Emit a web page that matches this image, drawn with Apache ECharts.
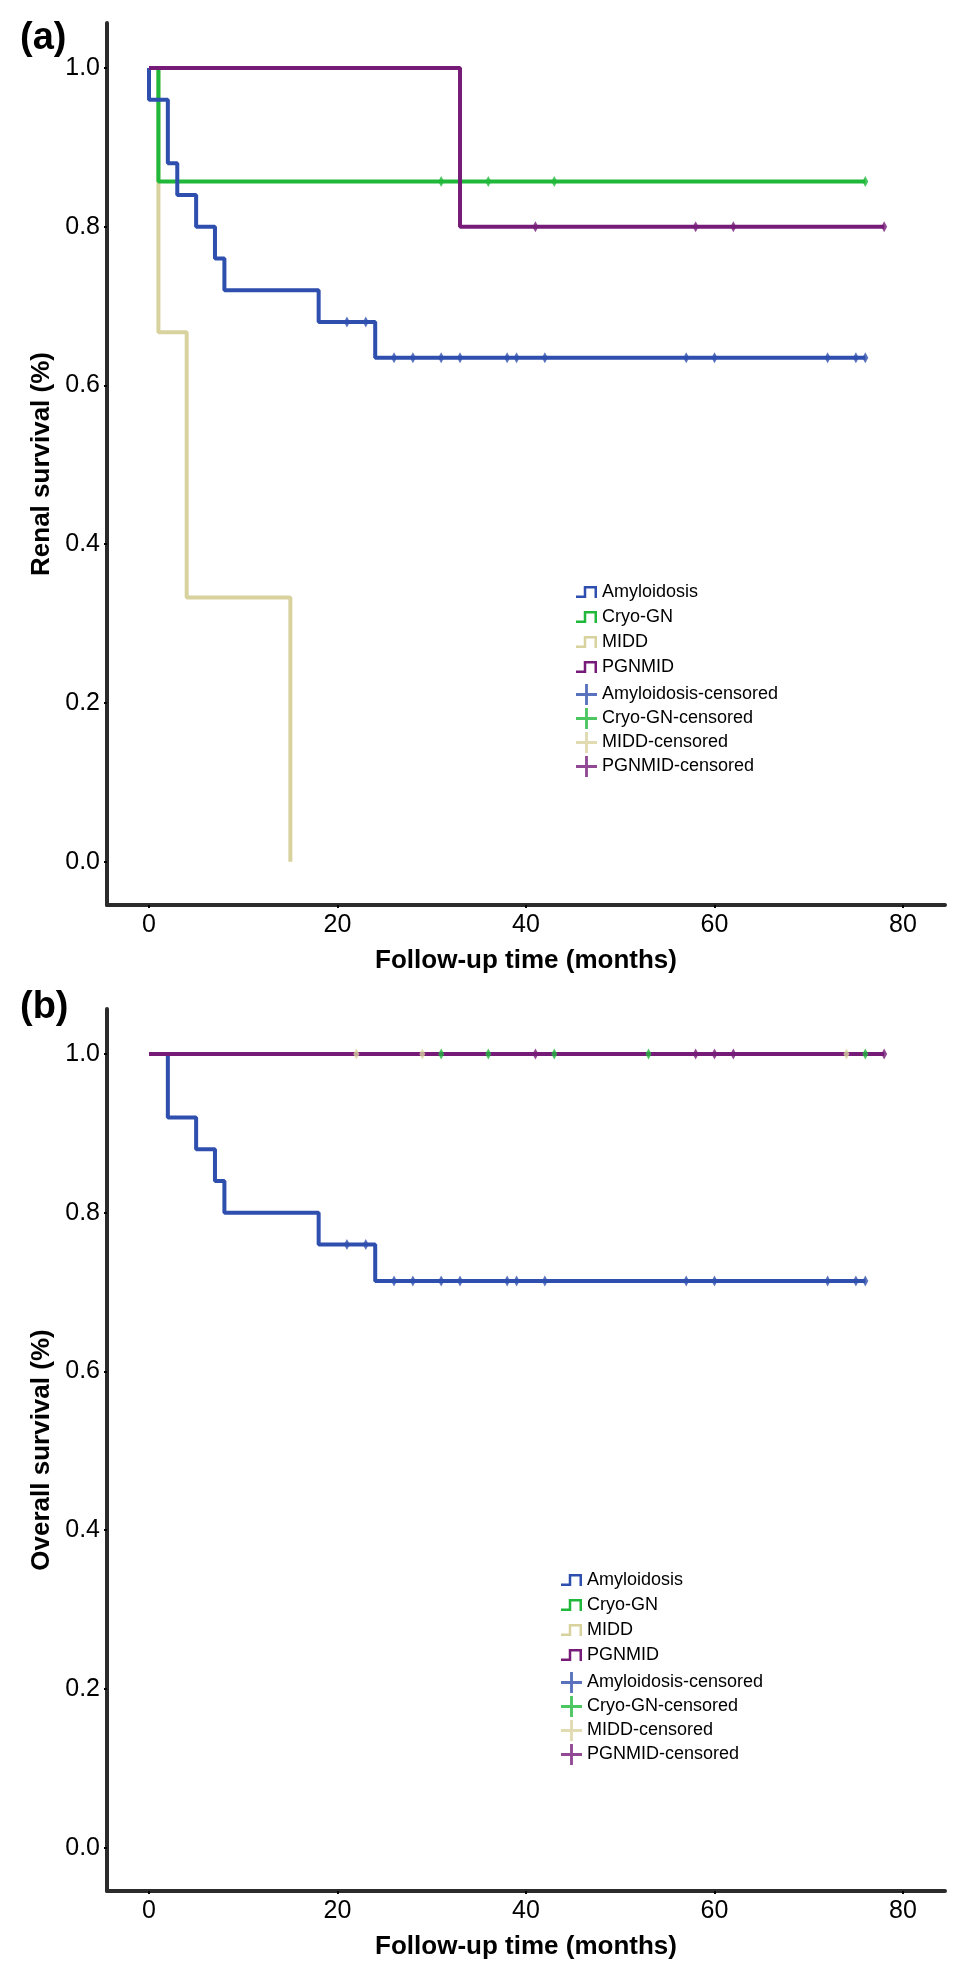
<!DOCTYPE html>
<html>
<head>
<meta charset="utf-8">
<script src="https://cdn.jsdelivr.net/npm/echarts@6/dist/echarts.min.js"></script>
<style>
  html, body { margin: 0; padding: 0; background: #fff; }
  #chart { width: 968px; height: 1983px; }
</style>
</head>
<body>
<div id="chart"></div>
<script>
// ---------- data ----------
const groups = ['Amyloidosis', 'Cryo-GN', 'MIDD', 'PGNMID'];
const xTicks = [0, 20, 40, 60, 80];
const yTicks = [0, 0.2, 0.4, 0.6, 0.8, 1.0];

// Panel (a): renal survival — step curves (time, survival)
const amyRenalT = [0, 0, 2, 3, 5, 7, 8, 18, 24, 76];
const amyRenalS = [1, 0.96, 0.88, 0.84, 0.80, 0.76, 0.72, 0.68, 0.635, 0.635];
const cryoRenalT = [0, 1, 76];
const cryoRenalS = [1, 0.857, 0.857];
const middRenalT = [0, 1, 4, 15];
const middRenalS = [1, 0.667, 0.333, 0];
const pgnRenalT = [0, 33, 78];
const pgnRenalS = [1, 0.8, 0.8];
// censored marks (a)
const amyRenalCensT = [21, 23, 26, 28, 31, 33, 38, 39, 42, 57, 60, 72, 75, 76];
const amyRenalCensS = [0.68, 0.68, 0.635, 0.635, 0.635, 0.635, 0.635, 0.635, 0.635, 0.635, 0.635, 0.635, 0.635, 0.635];
const cryoRenalCensT = [31, 36, 43, 76];
const cryoRenalCensS = [0.857, 0.857, 0.857, 0.857];
const middRenalCensT = [];
const middRenalCensS = [];
const pgnRenalCensT = [41, 58, 62, 78];
const pgnRenalCensS = [0.8, 0.8, 0.8, 0.8];

// Panel (b): overall survival
const amyOsT = [0, 2, 5, 7, 8, 18, 24, 76];
const amyOsS = [1, 0.92, 0.88, 0.84, 0.80, 0.76, 0.714, 0.714];
const cryoOsT = [0, 76];
const cryoOsS = [1, 1];
const middOsT = [0, 74];
const middOsS = [1, 1];
const pgnOsT = [0, 78];
const pgnOsS = [1, 1];
// censored marks (b)
const amyOsCensT = [21, 23, 26, 28, 31, 33, 38, 39, 42, 57, 60, 72, 75, 76];
const amyOsCensS = [0.76, 0.76, 0.714, 0.714, 0.714, 0.714, 0.714, 0.714, 0.714, 0.714, 0.714, 0.714, 0.714, 0.714];
const cryoOsCensT = [31, 36, 43, 53, 76];
const cryoOsCensS = [1, 1, 1, 1, 1];
const middOsCensT = [22, 29, 74];
const middOsCensS = [1, 1, 1];
const pgnOsCensT = [41, 58, 60, 62, 78];
const pgnOsCensS = [1, 1, 1, 1, 1];

// ---------- styling ----------
const colors = { 'Amyloidosis': '#2f4fae', 'Cryo-GN': '#1fb83a', 'MIDD': '#d8d29e', 'PGNMID': '#761c78' };
const zOrder = { 'MIDD': 2, 'Cryo-GN': 3, 'Amyloidosis': 4, 'PGNMID': 5 };
const FONT = '"Liberation Sans", Arial, sans-serif';
const stepIcon = 'path://M0,9.5 L7.75,9.5 L7.75,0 L21,0 L21,12 L18.5,12 L18.5,2.5 L10.25,2.5 L10.25,12 L0,12 Z';
const crossIcon = 'path://M9.5,0 L12.5,0 L12.5,9.5 L22,9.5 L22,12.5 L12.5,12.5 L12.5,22 L9.5,22 L9.5,12.5 L0,12.5 L0,9.5 L9.5,9.5 Z';

function zip(t, s) { return t.map((v, i) => [v, s[i]]); }

const panels = [
  { title: 'Renal survival (%)', curves: [[amyRenalT, amyRenalS], [cryoRenalT, cryoRenalS], [middRenalT, middRenalS], [pgnRenalT, pgnRenalS]],
    cens: [[amyRenalCensT, amyRenalCensS], [cryoRenalCensT, cryoRenalCensS], [middRenalCensT, middRenalCensS], [pgnRenalCensT, pgnRenalCensS]] },
  { title: 'Overall survival (%)', curves: [[amyOsT, amyOsS], [cryoOsT, cryoOsS], [middOsT, middOsS], [pgnOsT, pgnOsS]],
    cens: [[amyOsCensT, amyOsCensS], [cryoOsCensT, cryoOsCensS], [middOsCensT, middOsCensS], [pgnOsCensT, pgnOsCensS]] }
];

const gridTops = [23, 1009];
const gridH = 882;
const legendPos = [
  { left: 576, top1: 582, top2: 684 },
  { left: 561, top1: 1570, top2: 1672 }
];

const axisLineStyle = { color: '#2b2b2b', width: 4 };

const grid = [], xAxis = [], yAxis = [], series = [], legend = [];
panels.forEach((p, k) => {
  grid.push({ left: 107, top: gridTops[k], width: 838, height: gridH });
  xAxis.push({
    type: 'value', gridIndex: k, min: -4.456, max: 84.456,
    name: 'Follow-up time (months)', nameLocation: 'middle', nameGap: 43,
    nameTextStyle: { fontFamily: FONT, fontWeight: 'bold', fontSize: 26, color: '#000' },
    axisLine: { show: true, onZero: false, lineStyle: axisLineStyle },
    axisTick: { show: true, length: 3, customValues: xTicks, lineStyle: { color: '#000', width: 2 } },
    axisLabel: { customValues: xTicks, margin: 8, fontFamily: FONT, fontSize: 25, color: '#000', formatter: v => String(v) },
    splitLine: { show: false }
  });
  yAxis.push({
    type: 'value', gridIndex: k, min: -0.0545, max: 1.0566,
    name: p.title, nameLocation: 'middle', nameRotate: 90, nameGap: 45,
    nameTextStyle: { fontFamily: FONT, fontWeight: 'bold', fontSize: 26, color: '#000' },
    axisLine: { show: true, onZero: false, lineStyle: axisLineStyle },
    axisTick: { show: true, length: 3, customValues: yTicks, lineStyle: { color: '#000', width: 2 } },
    axisLabel: { customValues: yTicks, margin: 7, fontFamily: FONT, fontSize: 25, color: '#000', formatter: v => v.toFixed(1) },
    splitLine: { show: false }
  });
  groups.forEach((g, i) => {
    series.push({
      name: g, type: 'line', xAxisIndex: k, yAxisIndex: k, step: 'end', symbol: 'none',
      data: zip(p.curves[i][0], p.curves[i][1]),
      lineStyle: { color: colors[g], width: 4 }, itemStyle: { color: colors[g] },
      z: zOrder[g], animation: false, silent: true
    });
  });
  groups.forEach((g, i) => {
    series.push({
      name: g + '-censored', type: 'scatter', xAxisIndex: k, yAxisIndex: k,
      symbol: 'diamond', symbolSize: [6, 11],
      data: zip(p.cens[i][0], p.cens[i][1]),
      itemStyle: { color: colors[g] }, z: 10 + zOrder[g], animation: false, silent: true
    });
  });
  const lp = legendPos[k];
  legend.push({
    orient: 'vertical', left: lp.left, top: lp.top1, padding: 0, itemGap: 5,
    itemWidth: 21, itemHeight: 12, selectedMode: false,
    textStyle: { fontFamily: FONT, fontSize: 18, color: '#000', lineHeight: 20 },
    data: groups.map(g => ({ name: g, icon: stepIcon, itemStyle: { color: colors[g] } }))
  });
  legend.push({
    orient: 'vertical', left: lp.left, top: lp.top2, padding: 0, itemGap: 3,
    itemWidth: 21, itemHeight: 22, selectedMode: false,
    textStyle: { fontFamily: FONT, fontSize: 18, color: '#000', lineHeight: 20 },
    data: groups.map(g => ({ name: g + '-censored', icon: crossIcon, itemStyle: { color: colors[g] } }))
  });
});

const chart = echarts.init(document.getElementById('chart'), null, { renderer: 'canvas' });
chart.setOption({
  backgroundColor: '#fff',
  animation: false,
  grid, xAxis, yAxis, series, legend,
  graphic: [
    { type: 'text', left: 20, top: 20, style: { text: '(a)', fontFamily: FONT, fontWeight: 'bold', fontSize: 38, fill: '#000' } },
    { type: 'text', left: 20, top: 989, style: { text: '(b)', fontFamily: FONT, fontWeight: 'bold', fontSize: 38, fill: '#000' } }
  ]
});
</script>
</body>
</html>
